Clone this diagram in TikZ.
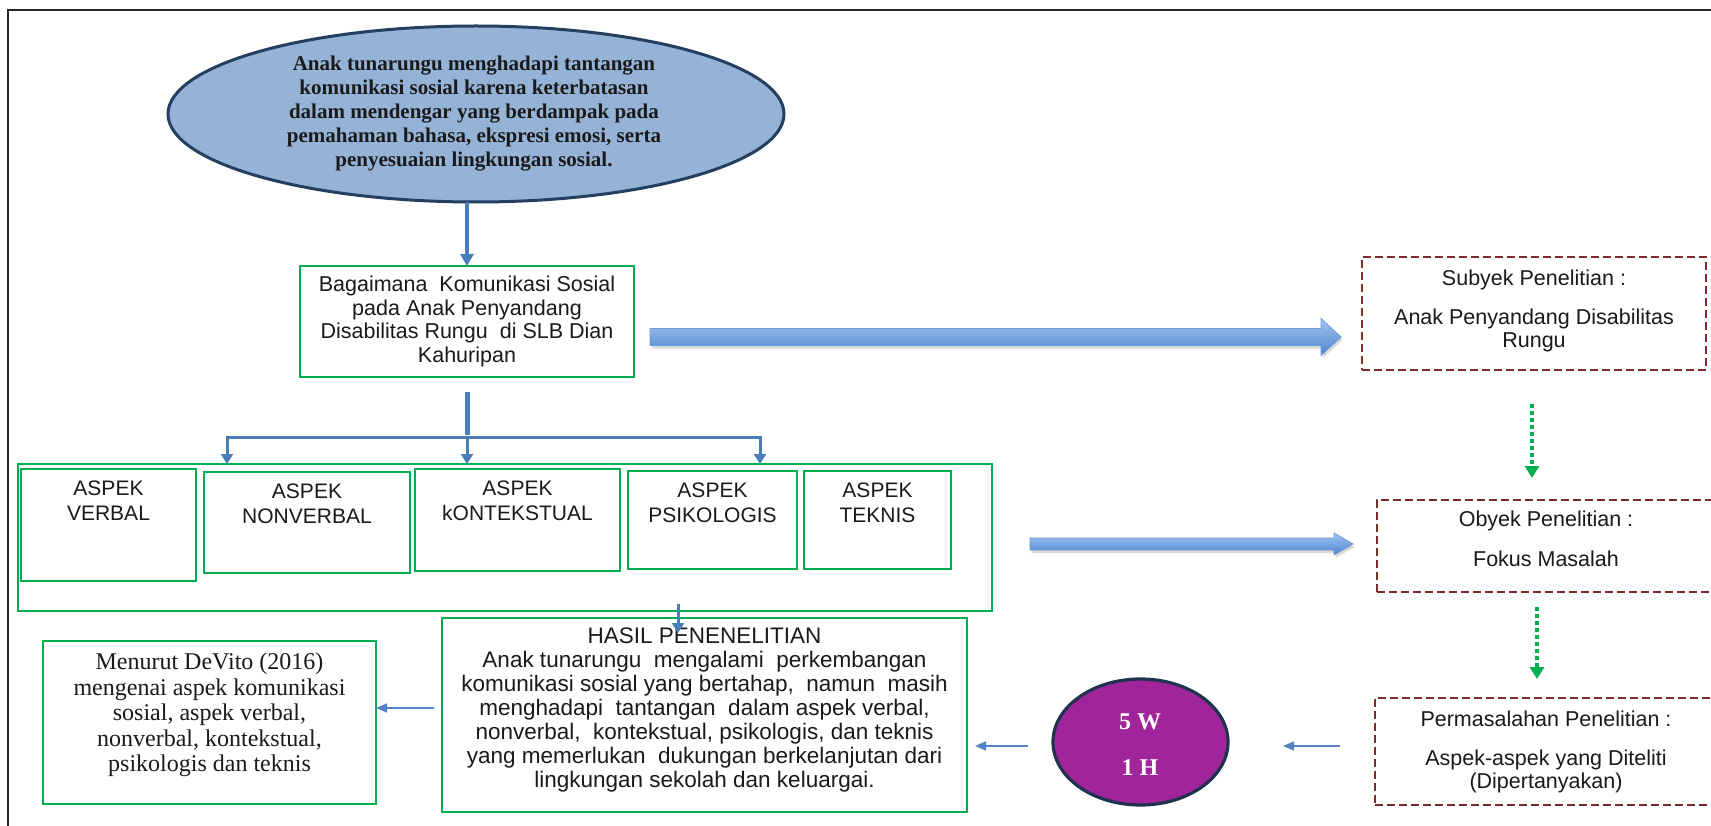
\documentclass[tikz,border=0pt]{standalone}
\usepackage{fontspec}
\setmainfont{Liberation Serif}
\newfontfamily\arialf{Liberation Sans}
\usetikzlibrary{arrows.meta,calc,shapes.geometric}
\definecolor{boxgreen}{HTML}{00B050}
\definecolor{bline}{HTML}{4A7EBB}
\definecolor{thinblue}{HTML}{5383C3}
\definecolor{dred}{HTML}{7A2C2C}
\definecolor{ellfill}{HTML}{95B3D7}
\definecolor{ellline}{HTML}{243F60}
\definecolor{purp}{HTML}{A1259A}
\definecolor{navy}{HTML}{1F3350}
\definecolor{dotgreen}{HTML}{00B050}
\definecolor{arrtop}{HTML}{A3C5F0}
\definecolor{arrbot}{HTML}{4F84CF}
\definecolor{arrline}{HTML}{6A99D9}
\definecolor{txt}{HTML}{1A1A1A}
\newcommand{\blkarrow}[5]{%
  \begin{scope}[transform canvas={xshift=1.5pt,yshift=-3pt}]
    \fill[black,opacity=0.15] ($(#1)+(0,-#3)$) -- ($(#2)+(-#5,-#3)$) -- ($(#2)+(-#5,-#4)$) -- (#2) -- ($(#2)+(-#5,#4)$) -- ($(#2)+(-#5,#3)$) -- ($(#1)+(0,#3)$) -- cycle;
  \end{scope}
  \shadedraw[top color=arrtop, bottom color=arrbot, draw=arrline, line width=0.8pt] ($(#1)+(0,-#3)$) -- ($(#2)+(-#5,-#3)$) -- ($(#2)+(-#5,-#4)$) -- (#2) -- ($(#2)+(-#5,#4)$) -- ($(#2)+(-#5,#3)$) -- ($(#1)+(0,#3)$) -- cycle;}
\begin{document}
\begin{tikzpicture}[x=1pt,y=-1pt,
  every node/.style={inner sep=0pt, outer sep=0pt},
  gbox/.style={draw=boxgreen, line width=2.8pt},
  abox/.style={draw=boxgreen, line width=2.6pt},
  dbox/.style={draw=dred, line width=2.2pt, dash pattern=on 8pt off 4pt},
  arialtxt/.style={font=\arialf\fontsize{21.5}{23.5}\selectfont, align=center, text=txt},
  aspt/.style={font=\arialf\fontsize{21}{25}\selectfont, align=center, text=txt, anchor=north, yshift=-12pt},
  conn/.style={draw=bline, line width=3pt, -{Triangle[length=10pt,width=12pt]}},
  thinarr/.style={draw=thinblue, line width=1.5pt, -{Triangle[length=11pt,width=9pt]}},
  gdot/.style={draw=dotgreen, line width=4pt, dash pattern=on 4pt off 3pt, -{Triangle[length=12pt,width=14pt]}},
]
\useasboundingbox (0,0) rectangle (1711,826);
\fill[white] (0,0) rectangle (1711,826);
% frame
\draw[line width=2.2pt, black!85] (1711,10) -- (8,10) -- (8,826);

% top ellipse
\node[ellipse, draw=ellline, line width=3pt, fill=ellfill, minimum width=616pt, minimum height=176pt] (ell) at (476,114) {};
\node[font=\bfseries\fontsize{21}{24}\selectfont, align=center, anchor=north, text=txt] (ellt) at (474,56) {Anak tunarungu menghadapi tantangan\\komunikasi sosial karena keterbatasan\\dalam mendengar yang berdampak pada\\pemahaman bahasa, ekspresi emosi, serta\\penyesuaian lingkungan sosial.};

% question box
\node[gbox, minimum width=334pt, minimum height=111pt, arialtxt] (bag) at (467,321.5) {Bagaimana\ \ Komunikasi Sosial\\pada Anak Penyandang\\Disabilitas Rungu\ \ di SLB Dian\\Kahuripan};

% aspect container
\node[draw=boxgreen, line width=2.4pt, minimum width=974pt, minimum height=147pt] (asp) at (505,537.5) {};
\node[abox, minimum width=175pt, minimum height=112pt, label={[aspt]north:{ASPEK\\VERBAL}}] (verbal) at (108.5,525) {};
\node[abox, minimum width=206pt, minimum height=101pt, label={[aspt]north:{ASPEK\\NONVERBAL}}] (nonverbal) at (307,522.5) {};
\node[abox, minimum width=205pt, minimum height=102pt, label={[aspt]north:{ASPEK\\kONTEKSTUAL}}] (kontekstual) at (517.5,520) {};
\node[draw=boxgreen, line width=2pt, minimum width=169pt, minimum height=98pt, label={[aspt]north:{ASPEK\\PSIKOLOGIS}}] (psikologis) at (712.5,520) {};
\node[draw=boxgreen, line width=2pt, minimum width=147pt, minimum height=98pt, label={[aspt]north:{ASPEK\\TEKNIS}}] (teknis) at (877.5,520) {};

% result box
\node[gbox, minimum width=525pt, minimum height=194pt] (hasil) at (704.5,715) {};
\node[font=\arialf\fontsize{22.5}{24}\selectfont, align=center, anchor=north, text=txt] (hasilt) at (704.5,628) {HASIL PENENELITIAN\\Anak tunarungu\ \ mengalami\ \ perkembangan\\komunikasi sosial yang bertahap,\ \ namun\ \ masih\\menghadapi\ \ tantangan\ \ dalam aspek verbal,\\nonverbal,\ \ kontekstual, psikologis, dan teknis\\yang memerlukan\ \ dukungan berkelanjutan dari\\lingkungan sekolah dan keluargai.};

% DeVito box
\node[draw=boxgreen, line width=2.4pt, minimum width=333pt, minimum height=163pt] (devito) at (209.5,722.5) {};
\node[font=\fontsize{24}{25.5}\selectfont, align=center, anchor=north, text=txt] (devitot) at (209.5,653) {Menurut DeVito (2016)\\mengenai aspek komunikasi\\sosial, aspek verbal,\\nonverbal, kontekstual,\\psikologis dan teknis};

% 5W1H
\node[ellipse, draw=navy, line width=3.2pt, fill=purp, minimum width=175pt, minimum height=126pt] (wh) at (1140.5,742) {};
\node[font=\bfseries\fontsize{24}{46}\selectfont, align=center, anchor=north, text=white] (wht) at (1140,714) {5 W\\1 H};

% right dashed boxes
\node[dbox, minimum width=344pt, minimum height=113pt] (sub) at (1534,313.5) {};
\node[arialtxt, anchor=north] (subt) at (1534,270) {Subyek Penelitian :\\[15pt]Anak Penyandang Disabilitas\\Rungu};
\node[dbox, minimum width=338pt, minimum height=92pt] (oby) at (1546,546) {};
\node[arialtxt, anchor=north] (obyt) at (1546,511) {Obyek Penelitian :\\[16pt]Fokus Masalah};
\node[dbox, minimum width=342pt, minimum height=107pt] (perm) at (1546,751.5) {};
\node[arialtxt, anchor=north] (permt) at (1546,711) {Permasalahan Penelitian :\\[15pt]Aspek-aspek yang Diteliti\\(Dipertanyakan)};

% connectors
\draw[draw=bline, line width=4pt, -{Triangle[length=12pt,width=13pt]}] (bag.north |- ell.south) -- (bag.north);
\coordinate (stubtop) at (467,392);
\coordinate (stubbot) at (467,435);
\draw[draw=bline, line width=5pt] (stubtop) -- (stubbot);
\coordinate (barL) at (227,437);
\coordinate (barM) at (467,437);
\coordinate (barR) at (760,437);
\draw[draw=bline, line width=3pt] (barL) -- (barR);
\draw[conn] ([yshift=1.5pt]barL) -- (barL |- asp.north);
\draw[conn] (barM) -- (barM |- asp.north);
\draw[conn] ([yshift=1.5pt]barR) -- (barR |- asp.north);
\coordinate (hs) at (678,604);
\coordinate (he) at (678,633);
\draw[conn] (hs) -- (he);

% block arrows
\coordinate (b1s) at (650,337);
\coordinate (b1e) at (1341,337);
\blkarrow{b1s}{b1e}{8.5}{18.5}{20}
\coordinate (b2s) at (1030,544);
\coordinate (b2e) at (1353,544);
\blkarrow{b2s}{b2e}{6}{11}{19}

% green dotted arrows
\coordinate (g1s) at (1532,404);
\coordinate (g1e) at (1532,478);
\draw[gdot] (g1s) -- (g1e);
\coordinate (g2s) at (1537,607);
\coordinate (g2e) at (1537,679);
\draw[gdot] (g2s) -- (g2e);

% thin arrows bottom row
\coordinate (t1s) at (1340,746);
\coordinate (t1e) at (1283,746);
\draw[thinarr] (t1s) -- (t1e);
\coordinate (t2s) at (1028,746);
\coordinate (t2e) at (975,746);
\draw[thinarr] (t2s) -- (t2e);
\coordinate (t3s) at (434,708);
\coordinate (t3e) at (376,708);
\draw[thinarr] (t3s) -- (t3e);
\end{tikzpicture}
\end{document}
